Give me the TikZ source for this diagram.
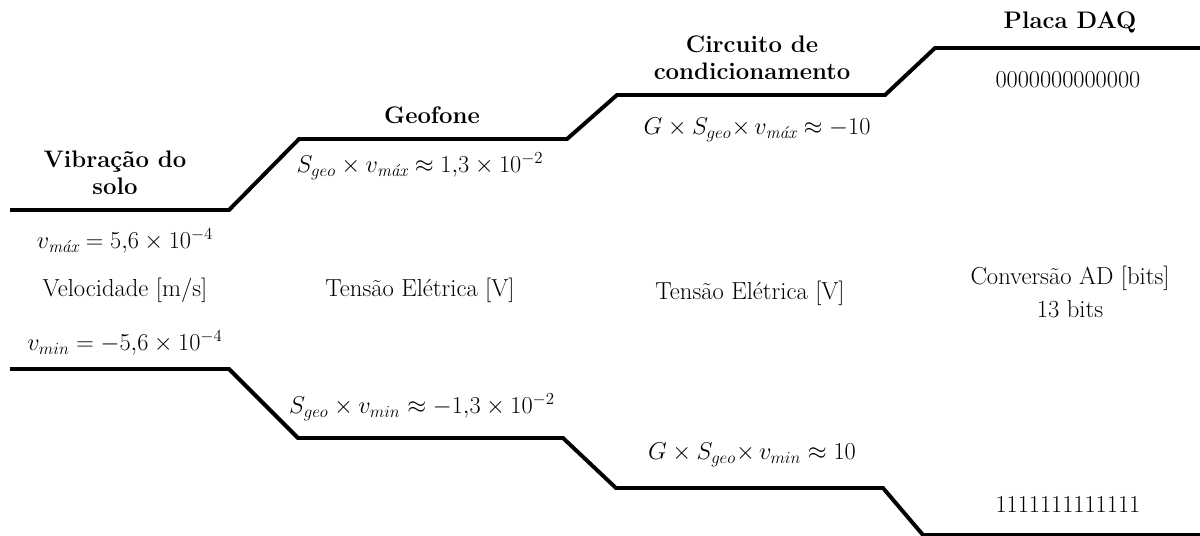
\documentclass[tikz,border=0pt]{standalone}
\usepackage{amsmath}
\usetikzlibrary{positioning}

\begin{document}
\begin{tikzpicture}[x=0.025cm,y=-0.025cm,font=\fontsize{17.5}{20}\selectfont,
  nivel/.style={draw=black,line width=2.8pt},
  titulo/.style={align=center,font=\fontsize{17}{19.5}\selectfont\bfseries,inner sep=0pt},
  valor/.style={inner sep=0pt,font=\fontsize{17.5}{20}\selectfont},
  grandeza/.style={align=center,inner sep=0pt}]
  \useasboundingbox (0,0) rectangle (1200,535);
  % faixa superior e inferior
  \draw[nivel] (10,210) -- (229,210) -- (299,139) -- (567,139) -- (617,95) -- (885,95) -- (935,48) -- (1205,48);
  \draw[nivel] (10,369) -- (229,369) -- (298,438) -- (563,438) -- (616,488) -- (883,488) -- (923,535) -- (1205,535);
  % titulos
  \node[titulo] (solo) at (115,173) {Vibração do\\solo};
  \node[titulo] (geo) at (432,115) {Geofone};
  \node[titulo] (circ) at (752,58) {Circuito de\\condicionamento};
  \node[titulo] (daq) at (1070,22) {Placa DAQ};
  % valores maximos
  \node[valor] (vmax) at (125,241) {$v_{\textit{máx}} = 5{,}6 \times 10^{-4}$};
  \node[valor] (gmax) at (420,166) {$S_{geo} \times v_{\textit{máx}} \approx 1{,}3 \times 10^{-2}$};
  \node[valor] (cmax) at (757,130) {$G \times S_{geo}{\times}\, v_{\textit{máx}} \approx -10$};
  \node[valor] (dmax) at (1068,80) {$0000000000000$};
  % grandezas
  \node[grandeza] (vel) at (125,290) {Velocidade [m/s]};
  \node[grandeza] (tens1) at (420,290) {Tensão Elétrica [V]};
  \node[grandeza] (tens2) at (750,293) {Tensão Elétrica [V]};
  \node[grandeza] (conv) at (1070,292) {Conversão AD [bits]\\[4pt]13 bits};
  % valores minimos
  \node[valor] (vmin) at (125,343) {$v_{min} = -5{,}6 \times 10^{-4}$};
  \node[valor] (gmin) at (422,407) {$S_{geo} \times v_{min} \approx -1{,}3 \times 10^{-2}$};
  \node[valor] (cmin) at (752,455) {$G \times S_{geo}{\times}\, v_{min} \approx 10$};
  \node[valor] (dmin) at (1068,505) {$1111111111111$};
\end{tikzpicture}
\end{document}
